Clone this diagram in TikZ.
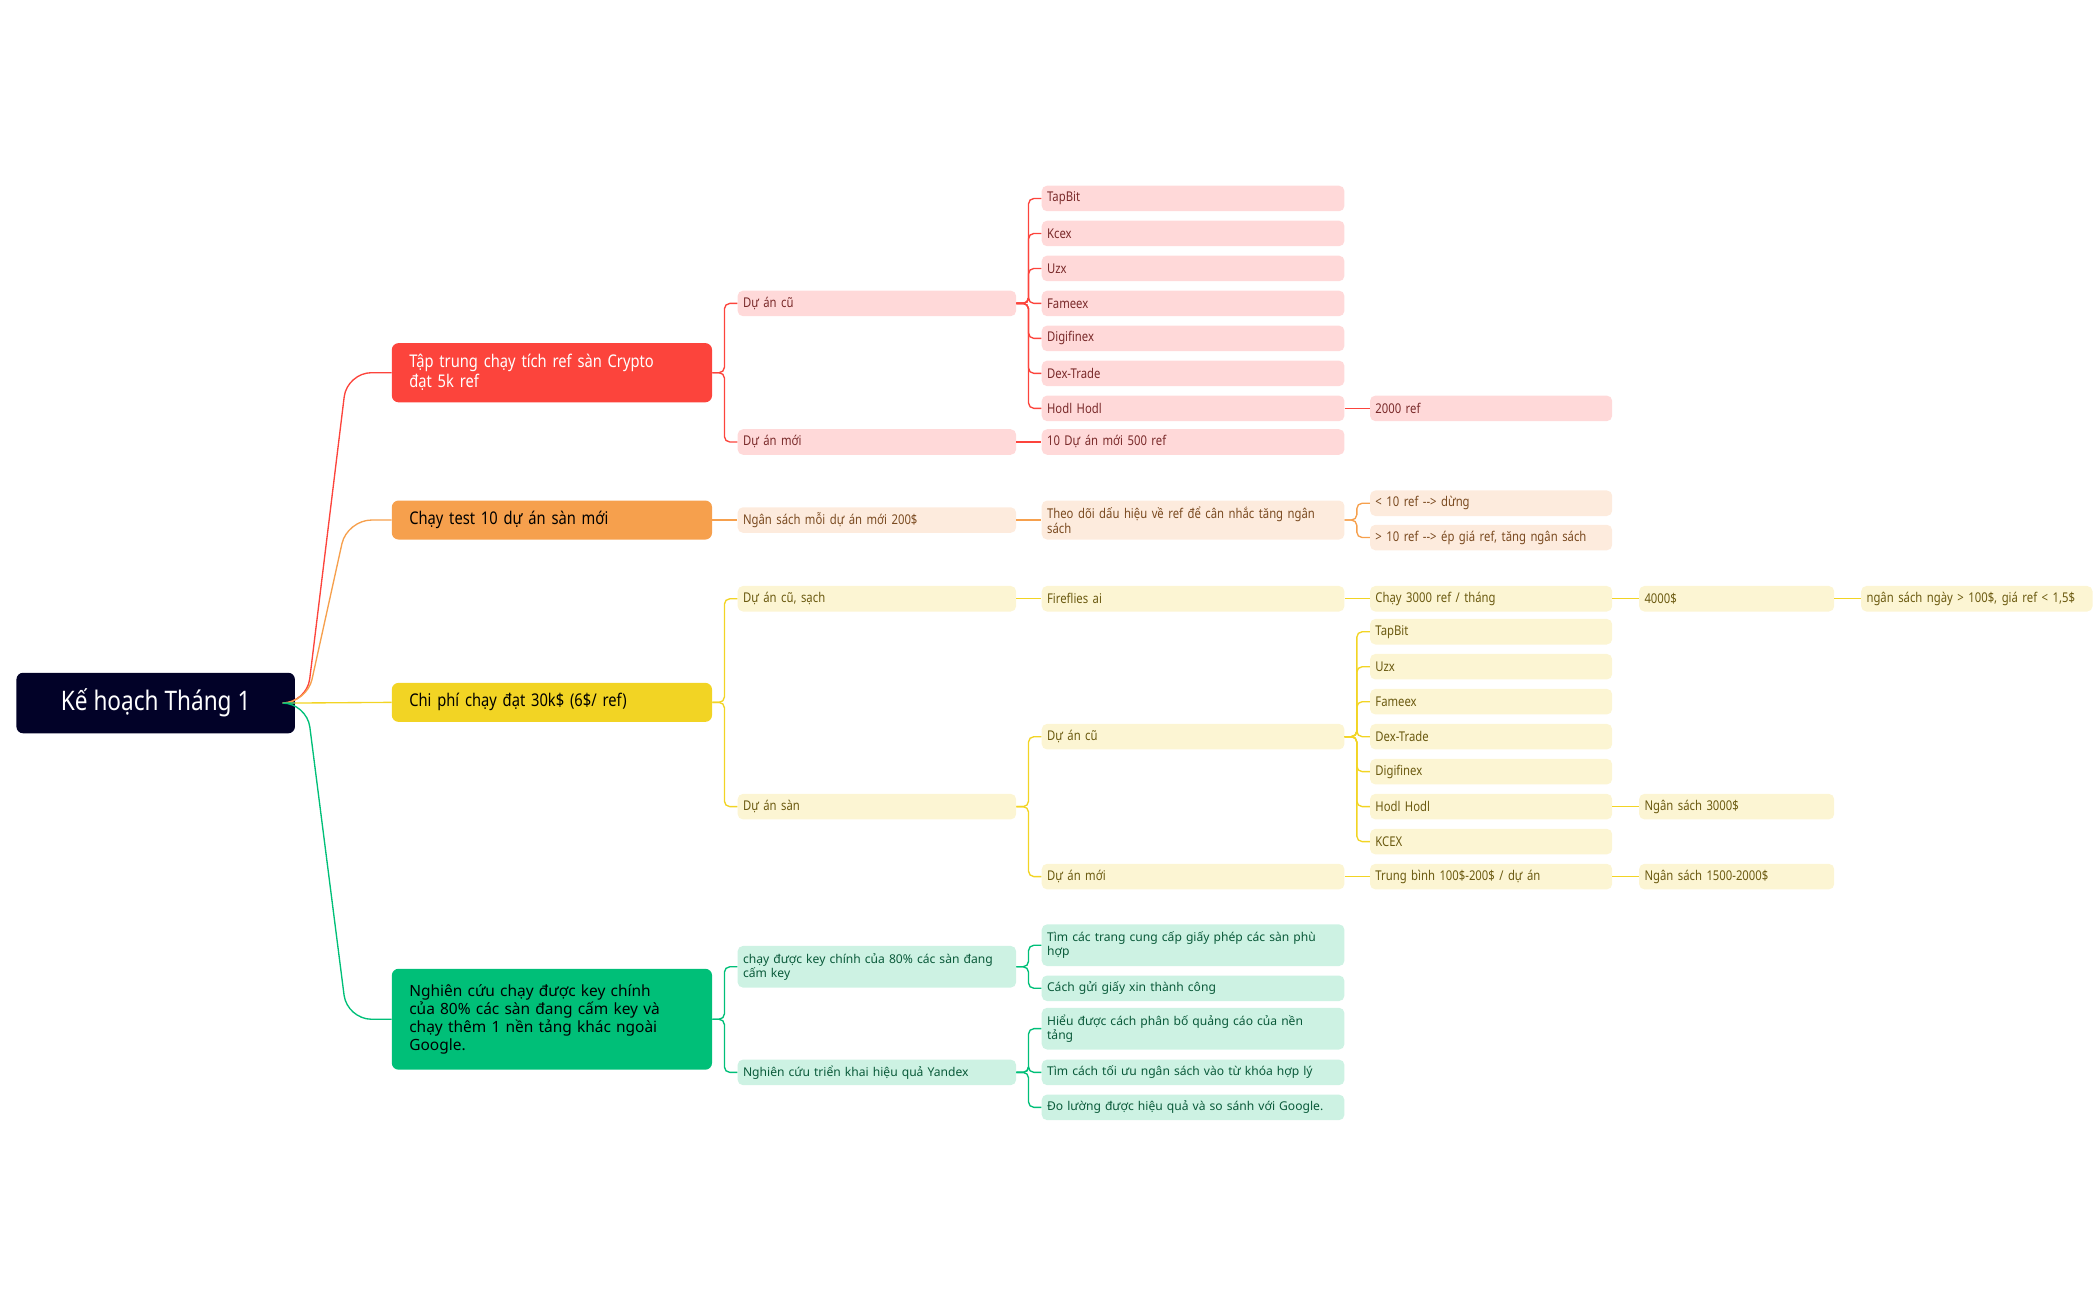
\documentclass[tikz,border=0pt]{standalone}
\usepackage{fontspec}
\setmainfont{Noto Sans}
\newfontfamily\condfont[FakeStretch=0.84]{Noto Sans}
\usetikzlibrary{positioning}

\definecolor{rootc}{HTML}{020228}
\definecolor{redc}{HTML}{FC443C}
\definecolor{redl}{HTML}{FFD9D9}
\definecolor{redt}{HTML}{7A2A2A}
\definecolor{orac}{HTML}{F6A04D}
\definecolor{oral}{HTML}{FDEBDD}
\definecolor{orat}{HTML}{7A4A20}
\definecolor{yelc}{HTML}{F2D424}
\definecolor{yell}{HTML}{FCF5D3}
\definecolor{yelt}{HTML}{6B5A10}
\definecolor{grnc}{HTML}{00BF78}
\definecolor{grnl}{HTML}{CDF2E3}
\definecolor{grnt}{HTML}{0A5A3A}

\tikzset{
    leaf/.style={rounded corners=4pt, minimum height=19pt, inner xsep=4pt, inner ysep=2pt, anchor=west, align=left, font=\condfont\fontsize{10}{11}\selectfont},
    topic/.style={rounded corners=5pt, minimum height=29pt, inner xsep=13pt, anchor=west, align=left, text width=212pt, font=\condfont\bfseries\fontsize{13}{15}\selectfont},
    c2/.style={text width=199pt},
    c3/.style={text width=217pt},
    c4/.style={text width=172pt},
    c5/.style={text width=137pt},
    c6/.style={text width=164pt},
    rleaf/.style={leaf, fill=redl, text=redt},
    oleaf/.style={leaf, fill=oral, text=orat},
    yleaf/.style={leaf, fill=yell, text=yelt},
    gleaf/.style={leaf, fill=grnl, text=grnt, font=\fontsize{9}{10}\selectfont},
    link/.style={line width=1pt, rounded corners=4pt}
}

\begin{document}
\begin{tikzpicture}[x=1pt, y=-1pt]
    \useasboundingbox (0,0) rectangle (1560,966);

    % Root
    \node[rounded corners=5pt, fill=rootc, text=white, minimum width=207pt, minimum height=45pt, anchor=west, font=\condfont\bfseries\fontsize{20}{22}\selectfont] (root) at (12,522.5) {Kế hoạch Tháng 1};

    % Main topics
    \node[topic, fill=redc, text=white, minimum height=44pt] (T1) at (291,277) {Tập trung chạy tích ref sàn Crypto\\đạt 5k ref};
    \node[topic, fill=orac, text=black] (T2) at (291,386.5) {Chạy test 10 dự án sàn mới};
    \node[topic, fill=yelc, text=black] (T3) at (291,522) {Chi phí chạy đạt 30k\$  (6\$/ ref)};
    \node[topic, fill=grnc, text=black, minimum height=75pt, font=\bfseries\fontsize{11.5}{13.5}\selectfont] (T4) at (291,757.5) {Nghiên cứu chạy được key chính\\của 80\% các sàn đang cấm key và\\chạy thêm 1 nền tảng khác ngoài\\Google.};

    % Root to topics
    \draw[line width=1pt, redc, rounded corners=18pt] (root.east) -- (228,522.5) -- (258,277) -- (T1.west);
    \draw[line width=1pt, orac, rounded corners=18pt] (root.east) -- (228,522.5) -- (258,386.5) -- (T2.west);
    \draw[line width=1pt, yelc] (root.east) -- (T3.west);
    \draw[line width=1pt, grnc, rounded corners=18pt] (root.east) -- (228,522.5) -- (258,757.5) -- (T4.west);

    % Red branch
    \node[rleaf, c2] (R1) at (548,225.5) {Dự án cũ};
    \node[rleaf, c2] (R2) at (548,328.5) {Dự án mới};
    \foreach \n in {R1,R2} \draw[link, redc] (T1.east) -- ++(9,0) |- (\n.west);
    \foreach \t [count=\i] in {TapBit,Kcex,Uzx,Fameex,Digifinex,Dex-Trade,Hodl Hodl} {
        \node[rleaf, c3] (RA\i) at (774,{147.5+26*(\i-1)}) {\t};
        \draw[link, redc] (R1.east) -- ++(9,0) |- (RA\i.west);
    }
    \node[rleaf, c4] (RA8) at (1018,303.5) {2000 ref};
    \draw[link, redc] (RA7.east) -- (RA8.west);
    \node[rleaf, c3] (RB1) at (774,328.5) {10 Dự án mới 500 ref};
    \draw[link, redc] (R2.east) -- (RB1.west);

    % Orange branch
    \node[oleaf, c2] (O1) at (548,386.5) {Ngân sách mỗi dự án mới 200\$};
    \draw[link, orac] (T2.east) -- (O1.west);
    \node[oleaf, c3, minimum height=29pt] (O2) at (774,386.5) {Theo dõi dấu hiệu về ref để cân nhắc tăng ngân\\sách};
    \draw[link, orac] (O1.east) -- (O2.west);
    \node[oleaf, c4] (O3) at (1018,374) {< 10 ref --> dừng};
    \node[oleaf, c4] (O4) at (1018,399.5) {> 10 ref --> ép giá ref, tăng ngân sách};
    \foreach \n in {O3,O4} \draw[link, orac] (O2.east) -- ++(9,0) |- (\n.west);

    % Yellow branch
    \node[yleaf, c2] (Y1) at (548,445) {Dự án cũ, sạch};
    \node[yleaf, c2] (Y2) at (548,599.5) {Dự án sàn};
    \foreach \n in {Y1,Y2} \draw[link, yelc] (T3.east) -- ++(9,0) |- (\n.west);
    \node[yleaf, c3] (YA1) at (774,445) {Fireflies ai};
    \node[yleaf, c4] (YA2) at (1018,445) {Chạy 3000 ref / tháng};
    \node[yleaf, c5] (YA3) at (1218,445) {4000\$};
    \node[yleaf, c6] (YA4) at (1383,445) {ngân sách ngày > 100\$, giá ref < 1,5\$};
    \draw[link, yelc] (Y1.east) -- (YA1.west);
    \draw[link, yelc] (YA1.east) -- (YA2.west);
    \draw[link, yelc] (YA2.east) -- (YA3.west);
    \draw[link, yelc] (YA3.east) -- (YA4.west);
    \node[yleaf, c3] (YB1) at (774,547.5) {Dự án cũ};
    \node[yleaf, c3] (YB2) at (774,651.5) {Dự án mới};
    \foreach \n in {YB1,YB2} \draw[link, yelc] (Y2.east) -- ++(9,0) |- (\n.west);
    \foreach \t [count=\i] in {TapBit,Uzx,Fameex,Dex-Trade,Digifinex,Hodl Hodl,KCEX} {
        \node[yleaf, c4] (YC\i) at (1018,{469.5+26*(\i-1)}) {\t};
        \draw[link, yelc] (YB1.east) -- ++(9,0) |- (YC\i.west);
    }
    \node[yleaf, c5] (YC8) at (1218,599.5) {Ngân sách 3000\$};
    \draw[link, yelc] (YC6.east) -- (YC8.west);
    \node[yleaf, c4] (YD1) at (1018,651.5) {Trung bình 100\$-200\$ / dự án};
    \node[yleaf, c5] (YD2) at (1218,651.5) {Ngân sách 1500-2000\$};
    \draw[link, yelc] (YB2.east) -- (YD1.west);
    \draw[link, yelc] (YD1.east) -- (YD2.west);

    % Green branch
    \node[gleaf, c2, minimum height=31pt] (G1) at (548,718.5) {chạy được key chính của 80\% các sàn đang\\cấm key};
    \node[gleaf, c2] (G2) at (548,797) {Nghiên cứu triển khai hiệu quả Yandex};
    \foreach \n in {G1,G2} \draw[link, grnc] (T4.east) -- ++(9,0) |- (\n.west);
    \node[gleaf, c3, minimum height=31pt] (GA1) at (774,702.5) {Tìm các trang cung cấp giấy phép các sàn phù\\hợp};
    \node[gleaf, c3] (GA2) at (774,734.5) {Cách gửi giấy xin thành công};
    \foreach \n in {GA1,GA2} \draw[link, grnc] (G1.east) -- ++(9,0) |- (\n.west);
    \node[gleaf, c3, minimum height=31pt] (GB1) at (774,764.5) {Hiểu được cách phân bố quảng cáo của nền\\tảng};
    \node[gleaf, c3] (GB2) at (774,797) {Tìm cách tối ưu ngân sách vào từ khóa hợp lý};
    \node[gleaf, c3] (GB3) at (774,823) {Đo lường được hiệu quả và so sánh với Google.};
    \foreach \n in {GB1,GB2,GB3} \draw[link, grnc] (G2.east) -- ++(9,0) |- (\n.west);

\end{tikzpicture}
\end{document}
